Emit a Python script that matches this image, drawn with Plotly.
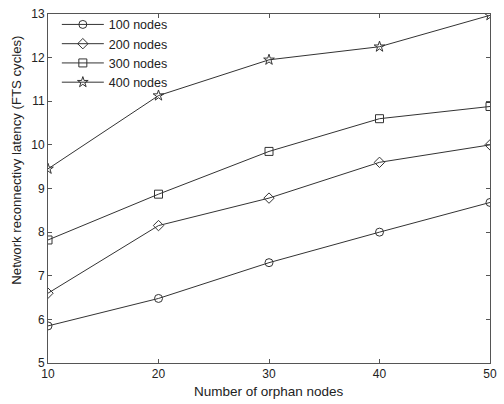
import plotly.graph_objects as go

orphan_nodes = [10, 20, 30, 40, 50]
latency_100 = [5.85, 6.48, 7.30, 8.00, 8.68]
latency_200 = [6.60, 8.15, 8.78, 9.60, 10.00]
latency_300 = [7.82, 8.87, 9.85, 10.60, 10.88]
latency_400 = [9.45, 11.13, 11.95, 12.25, 12.97]

series = [
    ("100 nodes", latency_100, "circle-open"),
    ("200 nodes", latency_200, "diamond-open"),
    ("300 nodes", latency_300, "square-open"),
    ("400 nodes", latency_400, "star-open"),
]

fig = go.Figure()
for name, vals, sym in series:
    fig.add_trace(go.Scatter(
        x=orphan_nodes, y=vals, name=name, mode="lines+markers",
        line=dict(color="#333333", width=1),
        marker=dict(symbol=sym, size=8, color="#333333", line=dict(width=1)),
    ))

axis_common = dict(
    showgrid=False, zeroline=False, showline=True, linecolor="#555555",
    linewidth=1, mirror="ticks", ticks="inside", ticklen=4,
    tickcolor="#555555", tickfont=dict(size=12, color="#222222"),
)

fig.update_layout(
    width=504, height=404,
    margin=dict(l=48, r=7, t=10, b=41),
    paper_bgcolor="white", plot_bgcolor="white",
    font=dict(family="Liberation Sans, Arial, sans-serif", color="#222222"),
    showlegend=True,
    legend=dict(x=0.02, y=1.012, xanchor="left", yanchor="top",
                bgcolor="rgba(0,0,0,0)", font=dict(size=12.5),
                tracegroupgap=0, itemwidth=42),
    xaxis=dict(range=[10, 50], tickvals=[10, 20, 30, 40, 50], **axis_common),
    yaxis=dict(range=[5, 13], tickvals=list(range(5, 14)), **axis_common),
    annotations=[
        dict(text="Number of orphan nodes", xref="paper", yref="paper",
             x=0.5, y=-0.082, xanchor="center", yanchor="middle",
             showarrow=False, font=dict(size=13.5)),
        dict(text="Network reconnectivy latency (FTS cycles)", xref="paper",
             yref="paper", x=-0.0714, y=0.581, xanchor="center",
             yanchor="middle", textangle=-90, showarrow=False,
             font=dict(size=13.2)),
    ],
)

fig.write_html("out.html")
